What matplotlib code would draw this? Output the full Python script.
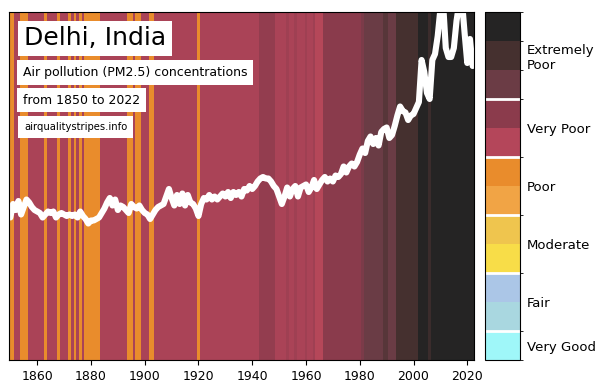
import numpy as np
import matplotlib
matplotlib.use("Agg")
import matplotlib.pyplot as plt
from matplotlib.colors import LinearSegmentedColormap, ListedColormap, BoundaryNorm, Normalize
from matplotlib.cm import ScalarMappable

# annual PM2.5 (ug/m3), 1850-2022
years = np.arange(1850, 2023)
pm25 = [
    47.5, 52, 50, 53, 48.5, 51, 53.5, 52.5, 51, 50,          # 1850s
    49.5, 49, 47.5, 48.5, 49.5, 49, 49.5, 47.5, 48.5, 49,    # 1860s
    48.5, 48, 48.5, 48, 48.5, 47.5, 49.5, 48, 47, 45.5,      # 1870s
    46.5, 46.5, 47, 47.5, 49, 50.5, 52.5, 54, 51.5, 53.5,    # 1880s
    50, 51.5, 51, 50, 49, 52, 51, 50.5, 51.5, 50,            # 1890s
    49, 48.5, 47, 48.5, 50, 51, 51.5, 52, 54.5, 57,          # 1900s
    54, 51.5, 55, 52, 55.5, 51.5, 55, 52.5, 52, 50.5,        # 1910s
    48, 52, 54, 53.5, 55, 53.5, 54.5, 53.5, 54.5, 55.5,      # 1920s
    54.5, 56, 54, 56, 55, 56, 54.5, 57, 56.5, 58,            # 1930s
    57, 58, 59.5, 60.5, 61, 60.5, 60.5, 59.5, 58, 57,        # 1940s
    54.5, 52, 54.5, 57.5, 54.5, 57, 58, 54.5, 57.5, 58,      # 1950s
    58.5, 56, 57.5, 60, 57, 58.5, 60, 61, 59.5, 60.5,        # 1960s
    59.5, 61.5, 61, 62, 64.5, 62.5, 64.5, 65.5, 64.5, 66,    # 1970s
    68.5, 70.5, 69, 73, 74.5, 72, 74, 71.5, 76, 77,          # 1980s
    77.5, 74, 75, 78, 81.5, 84.5, 83, 82.5, 80, 81.5,        # 1990s
    82, 84, 86, 100, 96, 89, 87, 100, 102, 108,              # 2000s
    117, 119, 104, 101, 101, 104, 113, 119, 120, 109,        # 2010s
    99, 107, 98,                                             # 2020s
]

# stripe shade per year, in colour-bin units (0 = Very Good ... 11 = darkest)
orange_years = [1850, 1851, 1854, 1855, 1856, 1863, 1868, 1872, 1874, 1876,
                1878, 1879, 1880, 1881, 1882, 1883, 1894, 1895, 1897, 1898,
                1902, 1903, 1920]
stripe_level = [6.0 if y in orange_years else 7.25 for y in range(1850, 1943)]
stripe_level += [7.8] * 6                                   # 1943-1948
stripe_level += [7.25, 7.25, 7.25, 7.25, 7.5, 7.25, 7.25, 7.5, 7.25, 7.25,
                 7.25, 7.5, 7.25, 7.25, 7.5, 7.0, 7.0, 7.0]  # 1949-1966
stripe_level += [8.0] * 14                                  # 1967-1980
stripe_level += [8.5] + [9.0] * 7 + [9.5, 9.5] + [9.0] * 3  # 1981-1993
stripe_level += [10.0] * 8                                  # 1994-2001
stripe_level += [11.0] * 4 + [10.3] + [11.0] * 16           # 2002-2022

bin_colors = ["#9ff7f9", "#a9d7e0", "#abc6e7", "#f8dd48", "#efc54e", "#f1a445",
              "#e98c2c", "#b4465a", "#8b3b4c", "#6b3c45", "#45302f", "#252424"]
categories = ["Very Good", "Fair", "Moderate", "Poor", "Very Poor", "Extremely\nPoor"]
cat_centers = [0.5, 2, 4, 6, 8, 10.5]
cat_edges = [1, 3, 5, 7, 9]

YMAX = 116

fig = plt.figure(figsize=(6.02, 3.91), dpi=100)
ax = fig.add_axes([9 / 602, 1 - 360 / 391, 465 / 602, 348 / 391])
cax = fig.add_axes([485 / 602, 1 - 360 / 391, 35 / 602, 348 / 391])

stripe_cmap = LinearSegmentedColormap.from_list(
    "stripes", list(zip(np.linspace(0, 1, len(bin_colors)), bin_colors)))
edges = np.append(years - 0.5, years[-1] + 0.5)
ax.pcolormesh(edges, [0, YMAX], np.array(stripe_level)[np.newaxis, :],
              cmap=stripe_cmap, norm=Normalize(0, len(bin_colors) - 1))
ax.plot(years, pm25, color="white", linewidth=4.4, solid_joinstyle="round",
        solid_capstyle="round")
ax.set_xlim(years[0] - 0.5, years[-1] + 0.5)
ax.set_ylim(0, YMAX)
ax.set_yticks([])
ax.set_xticks(np.arange(1860, 2021, 20))
ax.tick_params(axis="x", labelsize=9, length=3.5, width=0.8)

box = dict(facecolor="white", edgecolor="none", boxstyle="square,pad=0.22")
ax.text(0.032, 0.924, "Delhi, India", transform=ax.transAxes, fontsize=18,
        va="center", ha="left", bbox=box)
ax.text(0.030, 0.826, "Air pollution (PM2.5) concentrations", transform=ax.transAxes,
        fontsize=9, va="center", ha="left", bbox=dict(box, boxstyle="square,pad=0.45"))
ax.text(0.030, 0.747, "from 1850 to 2022", transform=ax.transAxes,
        fontsize=9, va="center", ha="left", bbox=dict(box, boxstyle="square,pad=0.45"))
ax.text(0.032, 0.670, "airqualitystripes.info", transform=ax.transAxes,
        fontsize=7.2, va="center", ha="left", bbox=dict(box, boxstyle="square,pad=0.6"))

# category colour bar
n = len(bin_colors)
sm = ScalarMappable(cmap=ListedColormap(bin_colors), norm=BoundaryNorm(np.arange(n + 1), n))
cb = fig.colorbar(sm, cax=cax, ticks=cat_centers)
cb.ax.set_yticklabels(categories)
cb.ax.tick_params(length=0, pad=5, labelsize=9.5)
cb.outline.set_linewidth(0.8)
for e in cat_edges:
    cb.ax.axhline(e, color="white", linewidth=2)

fig.savefig("out.png", dpi=100)
